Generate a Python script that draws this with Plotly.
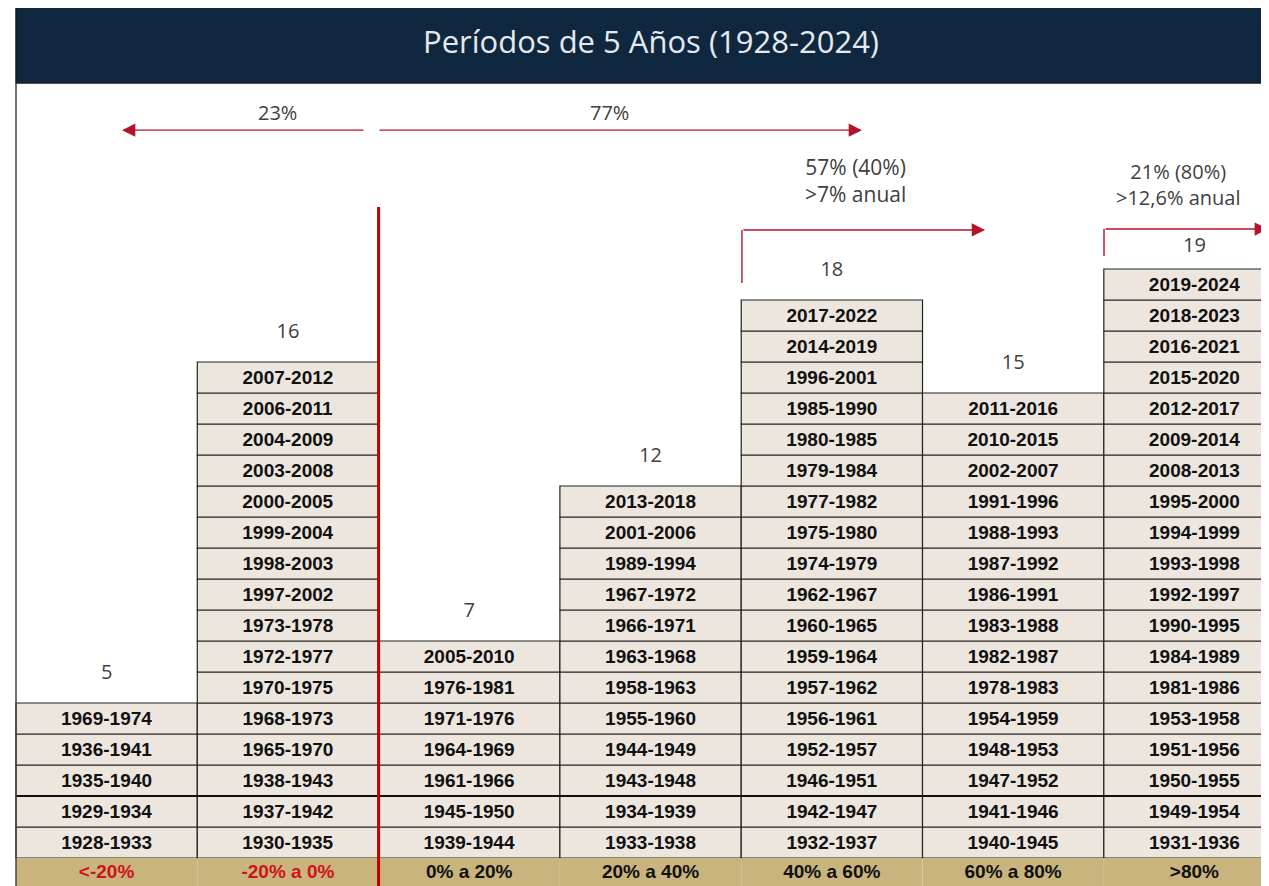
import plotly.graph_objects as go

# rangos de rentabilidad acumulada a 5 años
categories = ["<-20%", "-20% a 0%", "0% a 20%", "20% a 40%", "40% a 60%", "60% a 80%", ">80%"]
category_colors = ["#d0121b", "#d0121b", "#111111", "#111111", "#111111", "#111111", "#111111"]

# periodos de cada columna, de abajo hacia arriba
col_lt_m20 = ["1928-1933", "1929-1934", "1935-1940", "1936-1941", "1969-1974"]
col_m20_0 = ["1930-1935", "1937-1942", "1938-1943", "1965-1970", "1968-1973", "1970-1975",
             "1972-1977", "1973-1978", "1997-2002", "1998-2003", "1999-2004", "2000-2005",
             "2003-2008", "2004-2009", "2006-2011", "2007-2012"]
col_0_20 = ["1939-1944", "1945-1950", "1961-1966", "1964-1969", "1971-1976", "1976-1981",
            "2005-2010"]
col_20_40 = ["1933-1938", "1934-1939", "1943-1948", "1944-1949", "1955-1960", "1958-1963",
             "1963-1968", "1966-1971", "1967-1972", "1989-1994", "2001-2006", "2013-2018"]
col_40_60 = ["1932-1937", "1942-1947", "1946-1951", "1952-1957", "1956-1961", "1957-1962",
             "1959-1964", "1960-1965", "1962-1967", "1974-1979", "1975-1980", "1977-1982",
             "1979-1984", "1980-1985", "1985-1990", "1996-2001", "2014-2019", "2017-2022"]
col_60_80 = ["1940-1945", "1941-1946", "1947-1952", "1948-1953", "1954-1959", "1978-1983",
             "1982-1987", "1983-1988", "1986-1991", "1987-1992", "1988-1993", "1991-1996",
             "2002-2007", "2010-2015", "2011-2016"]
col_gt_80 = ["1931-1936", "1949-1954", "1950-1955", "1951-1956", "1953-1958", "1981-1986",
             "1984-1989", "1990-1995", "1992-1997", "1993-1998", "1994-1999", "1995-2000",
             "2008-2013", "2009-2014", "2012-2017", "2015-2020", "2016-2021", "2018-2023",
             "2019-2024"]

columns = [col_lt_m20, col_m20_0, col_0_20, col_20_40, col_40_60, col_60_80, col_gt_80]

arrow_labels = ["23%", "77%"]
note_mid = "57% (40%)<br>>7% anual"
note_top = "21% (80%)<br>>12,6% anual"

RED = "#b3142a"
GREY_TXT = "#404040"
LABEL_H = 0.9
W, H = 1261, 878  # la pagina deja 8px de margen

cell_x, cell_base, cell_text = [], [], []
for i, col in enumerate(columns):
    for j, period in enumerate(col):
        cell_x.append(i)
        cell_base.append(j)
        cell_text.append(period)

fig = go.Figure()

fig.add_trace(go.Bar(
    x=cell_x, y=[1] * len(cell_x), base=cell_base, width=1,
    text=cell_text, textposition="inside", insidetextanchor="middle", textangle=0,
    textfont=dict(family="Liberation Sans", size=19, color="#111111", weight="bold"),
    marker=dict(color="#ede6df", line=dict(color="#222222", width=1.2)),
    hoverinfo="skip", showlegend=False,
))

# fila de rangos
fig.add_trace(go.Bar(
    x=list(range(len(categories))), y=[LABEL_H] * len(categories), base=-LABEL_H, width=1,
    text=categories, textposition="inside", insidetextanchor="middle", textangle=0,
    textfont=dict(family="Liberation Sans", size=19, color=category_colors, weight="bold"),
    marker=dict(color="#c9b47d", line=dict(width=0)),
    hoverinfo="skip", showlegend=False,
))

counts = [len(c) for c in columns]
fig.add_trace(go.Scatter(
    x=list(range(len(counts))), y=[n + 0.95 if n < 19 else n + 0.72 for n in counts],
    text=[str(n) for n in counts], mode="text", cliponaxis=False,
    textfont=dict(family="Open Sans", size=20, color=GREY_TXT),
    hoverinfo="skip", showlegend=False,
))

fig.update_layout(barmode="overlay")

# linea gruesa y linea roja de separacion
fig.add_shape(type="line", x0=-0.5, x1=6.5, y0=2, y1=2, line=dict(color="#111111", width=2))
fig.add_shape(type="line", x0=1.5, x1=1.5, y0=-LABEL_H, y1=21.0, line=dict(color="#c00000", width=3))

arrow = dict(xref="x", yref="y", axref="x", ayref="y", showarrow=True, arrowhead=2,
             arrowsize=1.9, arrowwidth=1.4, arrowcolor=RED, text="")

# flechas superiores
y_arr = 23.48
fig.add_annotation(x=0.085, y=y_arr, ax=1.425, ay=y_arr, **arrow)
fig.add_annotation(x=4.166, y=y_arr, ax=1.497, ay=y_arr, **arrow)
fig.add_annotation(x=0.945, y=24.05, text=arrow_labels[0], showarrow=False,
                   font=dict(family="Open Sans", size=20, color=GREY_TXT))
fig.add_annotation(x=2.771, y=24.05, text=arrow_labels[1], showarrow=False,
                   font=dict(family="Open Sans", size=20, color=GREY_TXT))

# flechas en angulo
fig.add_shape(type="line", x0=3.504, x1=3.504, y0=18.55, y1=20.26, line=dict(color=RED, width=1.4))
fig.add_annotation(x=4.845, y=20.26, ax=3.504, ay=20.26, **arrow)
fig.add_shape(type="line", x0=5.501, x1=5.501, y0=19.42, y1=20.29, line=dict(color=RED, width=1.4))
fig.add_annotation(x=6.405, y=20.29, ax=5.501, ay=20.29, **arrow)

fig.add_annotation(x=4.128, y=21.84, text=note_mid, showarrow=False,
                   font=dict(family="Open Sans", size=21, color=GREY_TXT))
fig.add_annotation(x=5.909, y=21.74, text=note_top, showarrow=False,
                   font=dict(family="Open Sans", size=20, color=GREY_TXT))

# cabecera
fig.add_shape(type="rect", xref="paper", yref="paper", x0=8 / W, x1=1.01,
              y0=1 - 75 / H, y1=1.01, fillcolor="#10283f",
              line=dict(color="#1a1a1a", width=1.5), layer="below")
fig.add_shape(type="line", xref="paper", yref="paper", x0=8 / W, x1=8 / W,
              y0=0, y1=1 - 75 / H, line=dict(color="#444444", width=1.5))

fig.update_layout(
    title=dict(text="Períodos de 5 Años (1928-2024)", x=643 / W, y=1 - 34 / H,
               xanchor="center", yanchor="middle",
               font=dict(family="Open Sans", size=31, color="#e6e9ee")),
    width=W, height=H,
    margin=dict(l=0, r=0, t=0, b=0),
    paper_bgcolor="white", plot_bgcolor="white",
    xaxis=dict(range=[-0.544, 6.411], visible=False, fixedrange=True),
    yaxis=dict(range=[-0.903, 27.42], visible=False, fixedrange=True),
)

fig.write_html("out.html")
